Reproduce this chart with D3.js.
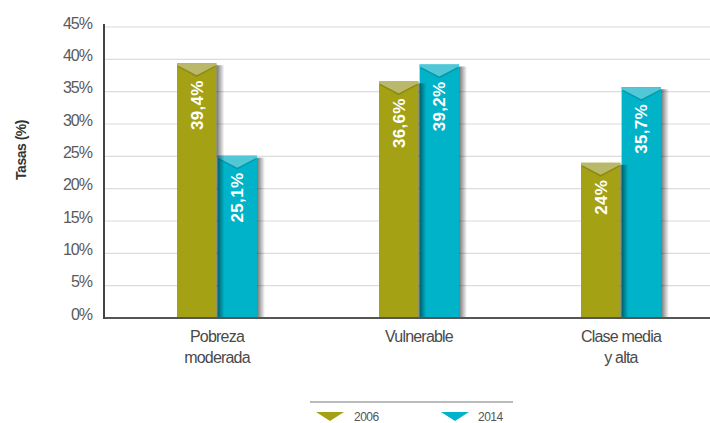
<!DOCTYPE html>
<html>
<head>
<meta charset="utf-8">
<script src="https://cdnjs.cloudflare.com/ajax/libs/d3/7.8.5/d3.min.js"></script>
<style>
  body { margin: 0; background: #fff; }
  svg { display: block; font-family: "Liberation Sans", Arial, sans-serif; }
</style>
</head>
<body>
<svg id="chart" width="710" height="423"></svg>
<script>
// data
const categories = [["Pobreza", "moderada"], ["Vulnerable"], ["Clase media", "y alta"]]
const series = ["2006", "2014"]
const values2006 = [39.4, 36.6, 24]
const values2014 = [25.1, 39.2, 35.7]
const labels2006 = ["39,4%", "36,6%", "24%"]
const labels2014 = ["25,1%", "39,2%", "35,7%"]
const yTicks = [0, 5, 10, 15, 20, 25, 30, 35, 40, 45]

const colors = {"2006": "#a4a115", "2014": "#00b3c9"}
const chevron = {"2006": "#b9b86b", "2014": "#52c7d7"}

const svg = d3.select('#chart')
const catKeys = categories.map(c => c.join(' '))

const y = d3.scaleLinear().domain([0, 45]).range([318, 27])
const x0 = d3.scaleBand().domain(catKeys).range([116, 722])
const x1 = d3.scaleBand().domain(series).range([0, 80]).paddingInner(0.03)

const defs = svg.append('defs')
let grad = defs.append('linearGradient').attr('id', 'shade')
grad.append('stop').attr('offset', '0%').attr('stop-color', '#000').attr('stop-opacity', 0.55)
grad.append('stop').attr('offset', '100%').attr('stop-color', '#000').attr('stop-opacity', 0)

// gridlines
svg.append('g')
    .selectAll('line')
    .data(yTicks.filter(d => d > 0))
    .join('line')
    .attr('x1', 104).attr('x2', 710)
    .attr('y1', d => y(d)).attr('y2', d => y(d))
    .attr('stroke', '#dcdcdc')
    .attr('stroke-width', 1.2)

// y axis labels
svg.append('g')
    .selectAll('text')
    .data(yTicks)
    .join('text')
    .attr('x', 92)
    .attr('y', d => y(d) - 4)
    .attr('dy', '0.36em')
    .attr('text-anchor', 'end')
    .attr('font-size', 16)
    .attr('letter-spacing', -1)
    .attr('fill', '#5a5a5a')
    .text(d => d + '%')

svg.append('text')
    .attr('transform', 'translate(26,150)rotate(-90)')
    .attr('text-anchor', 'middle')
    .attr('font-size', 14)
    .attr('font-weight', 'bold')
    .attr('letter-spacing', -0.5)
    .attr('fill', '#333')
    .text('Tasas (%)')

// bars
const rows = []
catKeys.forEach((c, i) => {
    rows.push({cat: c, s: '2006', v: values2006[i], label: labels2006[i]})
    rows.push({cat: c, s: '2014', v: values2014[i], label: labels2014[i]})
})
const bx = d => x0(d.cat) + x0.bandwidth() / 2 - 40 + x1(d.s)
const bw = x1.bandwidth()

const bars = svg.append('g').selectAll('g').data(rows).join('g')
bars.append('rect')
    .attr('x', bx)
    .attr('y', d => y(d.v))
    .attr('width', bw)
    .attr('height', d => y(0) - y(d.v))
    .attr('fill', d => colors[d.s])

// chevron tops
bars.append('path')
    .attr('d', d => {
        let l = bx(d), t = y(d.v)
        return `M${l},${t}L${l + bw},${t}L${l + bw},${t + 2}L${l + bw / 2},${t + 12}L${l},${t + 2}Z`
    })
    .attr('fill', d => chevron[d.s])
bars.append('path')
    .attr('d', d => {
        let l = bx(d), t = y(d.v)
        return `M${l + 1},${t + 3}L${l + bw / 2},${t + 13}L${l + bw - 1},${t + 3}`
    })
    .attr('fill', 'none')
    .attr('stroke', '#000')
    .attr('stroke-opacity', 0.15)
    .attr('stroke-width', 1.5)

// shadows on the right
svg.append('g').selectAll('rect').data(rows).join('rect')
    .attr('x', d => bx(d) + bw)
    .attr('y', d => y(d.v) + 2)
    .attr('width', 8)
    .attr('height', d => y(0) - y(d.v) - 2)
    .attr('fill', 'url(#shade)')

// bar labels
svg.append('g').selectAll('text').data(rows).join('text')
    .attr('transform', d => `translate(${bx(d) + bw / 2},${y(d.v) + 17})rotate(-90)`)
    .attr('text-anchor', 'end')
    .attr('dy', '0.36em')
    .attr('font-size', 17)
    .attr('font-weight', 'bold')
    .attr('letter-spacing', 0.3)
    .attr('fill', '#fff')
    .text(d => d.label)

// baseline and axis
svg.append('line')
    .attr('x1', 104).attr('x2', 710)
    .attr('y1', y(0)).attr('y2', y(0))
    .attr('stroke', '#555').attr('stroke-width', 2)
svg.append('line')
    .attr('x1', 104).attr('x2', 104)
    .attr('y1', y(45) - 3).attr('y2', y(0) + 1)
    .attr('stroke', '#444').attr('stroke-width', 2)

// category labels
const catG = svg.append('g').selectAll('text').data(categories).join('text')
    .attr('x', (d, i) => x0(catKeys[i]) + x0.bandwidth() / 2)
    .attr('y', 342)
    .attr('text-anchor', 'middle')
    .attr('font-size', 16)
    .attr('letter-spacing', -0.8)
    .attr('fill', '#4a4a4a')
catG.selectAll('tspan').data(d => d).join('tspan')
    .attr('x', function(){ return this.parentNode.getAttribute('x') })
    .attr('dy', (d, i) => i ? 21 : 0)
    .text(d => d)

// legend
svg.append('line')
    .attr('x1', 310).attr('x2', 513)
    .attr('y1', 402).attr('y2', 402)
    .attr('stroke', '#bbb').attr('stroke-width', 2)
const legX = [316, 441]
const leg = svg.append('g').selectAll('g').data(series).join('g')
    .attr('transform', (d, i) => `translate(${legX[i]},412)`)
leg.append('path')
    .attr('d', 'M0,0L28,0L14,9Z')
    .attr('fill', d => colors[d])
leg.append('text')
    .attr('x', (d, i) => i ? 37 : 38)
    .attr('y', 9)
    .attr('font-size', 12)
    .attr('letter-spacing', -0.5)
    .attr('fill', '#555')
    .text(d => d)
</script>
</body>
</html>
